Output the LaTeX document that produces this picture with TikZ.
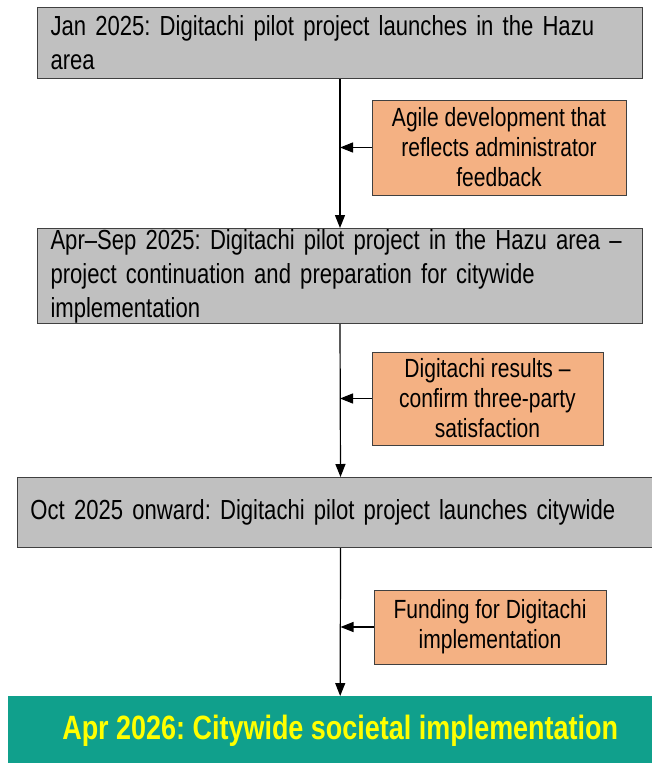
\documentclass[tikz,border=0pt]{standalone}
\usepackage{fontspec}
\setmainfont{Liberation Sans}[FakeStretch=0.8]
\usepackage{tikz}
\usetikzlibrary{arrows.meta,positioning,calc}
\definecolor{phasegrey}{HTML}{C0C0C0}
\definecolor{edge}{HTML}{404040}
\definecolor{peach}{HTML}{F4B183}
\definecolor{teal}{HTML}{10A08C}
\definecolor{gold}{HTML}{FFFF00}
\frenchspacing

\begin{document}
\begin{tikzpicture}[x=1pt,y=-1pt,>={Triangle[length=13pt,width=10pt]},
 phase/.style={draw=edge,line width=1pt,fill=phasegrey,anchor=north west,align=left,inner xsep=13pt,inner ysep=0pt,font=\fontsize{27.6}{34}\selectfont},
 input/.style={draw=edge,line width=1pt,fill=peach,align=center,inner sep=0pt,font=\fontsize{26.3}{30}\selectfont},
 goal/.style={fill=teal,anchor=north west,align=center,inner sep=0pt,text=gold,font=\bfseries\fontsize{33.7}{38}\selectfont},
 ar/.style={->,line width=1.2pt}]
 \useasboundingbox (0,0) rectangle (652,763);
 \clip (0,0) rectangle (652,763);
 % phases
 \node[phase,text width=579pt,minimum height=71pt] (jan) at (37,7) {Jan 2025: Digitachi pilot project launches in the Hazu\\area};
 \node[phase,text width=579pt,minimum height=95pt] (hazu) at (37,228) {Apr--Sep 2025: Digitachi pilot project in the Hazu area --\\project continuation and preparation for citywide\\implementation};
 \node[phase,text width=620pt,minimum height=70pt] (city) at (17,477) {Oct 2025 onward: Digitachi pilot project launches citywide};
 \node[goal,minimum width=664pt,minimum height=70pt] (goal) at (8,696) {Apr 2026: Citywide societal implementation};
 % inputs
 \node[input,minimum width=254pt,minimum height=95pt] (agile) at (499,147.5) {Agile development that\\reflects administrator\\feedback};
 \node[input,minimum width=231pt,minimum height=93pt] (result) at (487.5,398.5) {Digitachi results --\\confirm three-party\\satisfaction};
 \node[input,minimum width=232pt,minimum height=74pt] (fund) at (490,627) {Funding for Digitachi\\implementation};
 % flow
 \draw[ar] (jan.south) -- (hazu.north);
 \draw[ar] (hazu.south) -- (city.north);
 \draw[ar] (city.south) -- (goal.north);
 \draw[ar] (agile.west) -- (agile.west -| jan.south);
 \draw[ar] (result.west) -- (result.west -| hazu.south);
 \draw[ar] (fund.west) -- (fund.west -| city.south);
\end{tikzpicture}
\end{document}
